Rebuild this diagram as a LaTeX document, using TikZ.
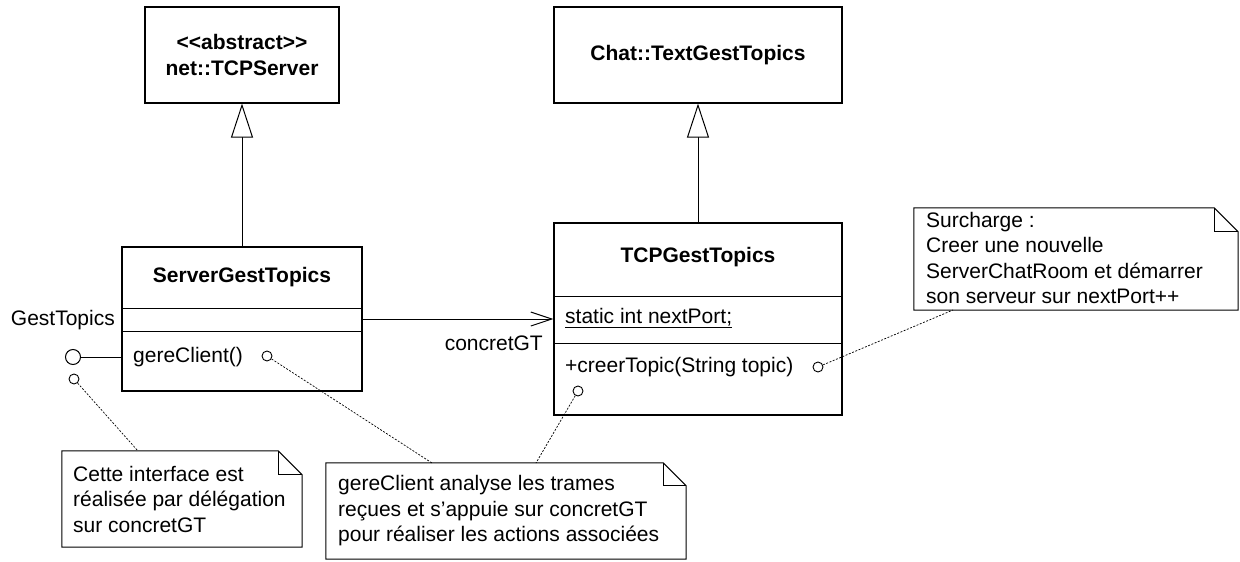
\documentclass[tikz,border=0pt]{standalone}
\usepackage{fontspec}
\setmainfont{Liberation Sans}
\usetikzlibrary{arrows.meta}
\newcommand{\drawnote}[2]{%
  \draw[noteline] (#1.south west) -- (#1.north west) -- ([xshift=-#2]#1.north east) -- ([yshift=-#2]#1.north east) -- (#1.south east) -- cycle;
  \draw[noteline] ([xshift=-#2]#1.north east) -- ([xshift=-#2,yshift=-#2]#1.north east) -- ([yshift=-#2]#1.north east);}
\begin{document}
\begin{tikzpicture}[x=1pt,y=-1pt,
  font=\fontsize{21}{25.5}\selectfont,
  classbox/.style={draw, line width=1.2pt, inner sep=0pt},
  compline/.style={line width=1pt},
  notearea/.style={draw=none, inner sep=0pt},
  noteline/.style={line width=1pt},
  title/.style={font=\fontsize{21}{25.5}\selectfont\bfseries, align=center, inner sep=0pt},
  lbl/.style={inner sep=0pt, align=left},
  gen/.style={line width=1pt, -{Triangle[open, length=34pt, width=22pt, fill=white]}},
  assoc/.style={line width=1pt, -{Straight Barb[length=21pt, width=14pt, line width=1pt]}},
  anchorline/.style={line width=0.7pt, dash pattern=on 2pt off 1.5pt},
  smallc/.style={circle, draw, line width=0.9pt, minimum size=10pt, inner sep=0pt},
  bigc/.style={circle, draw, line width=1pt, minimum size=15pt, inner sep=0pt}]
\useasboundingbox (0,0) rectangle (1240,562);

% classes
\node[classbox, minimum width=194pt, minimum height=96pt] (tcpserver) at (242,55) {};
\node[title] (tcpservert) at (242,55) {\mbox{<}\mbox{<}abstract\mbox{>}\mbox{>}\\net::TCPServer};
\node[classbox, minimum width=288pt, minimum height=96pt] (chat) at (698,55) {};
\node[title] (chatt) at (698,55) {Chat::TextGestTopics};

\node[classbox, minimum width=240pt, minimum height=144pt] (sgt) at (242,319) {};
\node[title] (sgtt) at (242,277) {ServerGestTopics};
\draw[compline] (sgt.west |- 0,308) -- (sgt.east |- 0,308);
\draw[compline] (sgt.west |- 0,331) -- (sgt.east |- 0,331);
\node[lbl, anchor=west] (gere) at (133,357) {gereClient()};

\node[classbox, minimum width=288pt, minimum height=192pt] (tgt) at (698,319) {};
\node[title] (tgtt) at (698,257) {TCPGestTopics};
\draw[compline] (tgt.west |- 0,296) -- (tgt.east |- 0,296);
\draw[compline] (tgt.west |- 0,343) -- (tgt.east |- 0,343);
\node[lbl, anchor=west] (nextport) at (565,318) {\underline{static int nextPort;}};
\node[lbl, anchor=west] (creer) at (565,367) {+creerTopic(String topic)};

% relations
\draw[gen] (sgt.north) -- (tcpserver.south);
\draw[gen] (tgt.north) -- (chat.south);
\draw[assoc] (sgt.east) -- (tgt.west);
\node[lbl, anchor=east] (concret) at (543,343) {concretGT};

% interface lollipop
\node[lbl, anchor=east] (gestl) at (115,320) {GestTopics};
\node[bigc] (iface) at (73,357) {};
\draw[line width=1pt] (iface) -- (iface -| sgt.west);

% small anchor circles
\node[smallc] (c1) at (74,379) {};
\node[smallc] (c2) at (267,356) {};
\node[smallc] (c3) at (578,391) {};
\node[smallc] (c4) at (818,367) {};

% notes
\node[notearea, minimum width=240pt, minimum height=96pt] (n1) at (182,499) {};
\drawnote{n1}{24pt}
\node[lbl, anchor=west] (n1t) at (73,499) {Cette interface est\\réalisée par délégation\\sur concretGT};

\node[notearea, minimum width=360pt, minimum height=96pt] (n2) at (506,511) {};
\drawnote{n2}{23pt}
\node[lbl, anchor=west] (n2t) at (338,511) {gereClient analyse les trames\\reçues et s’appuie sur concretGT\\pour réaliser les actions associées};

\node[notearea, minimum width=324pt, minimum height=102pt] (n3) at (1076,259) {};
\drawnote{n3}{24pt}
\node[lbl, anchor=west] (n3t) at (926,258) {Surcharge :\\Creer une nouvelle\\ServerChatRoom et démarrer\\son serveur sur nextPort++};

\coordinate (a1) at (138,451);
\coordinate (a2) at (432,463);
\coordinate (a3) at (536,463);
\coordinate (a4) at (953,310);
\draw[anchorline] (c1) -- (a1);
\draw[anchorline] (c2) -- (a2);
\draw[anchorline] (c3) -- (a3);
\draw[anchorline] (c4) -- (a4);
\end{tikzpicture}
\end{document}
